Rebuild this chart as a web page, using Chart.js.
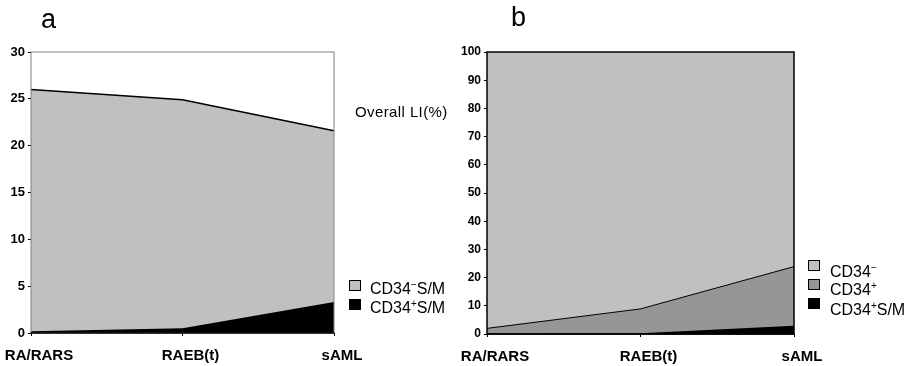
<!DOCTYPE html>
<html><head><meta charset="utf-8">
<script src="https://cdn.jsdelivr.net/npm/chart.js@4/dist/chart.umd.min.js"></script>
<style>
html,body{margin:0;padding:0;background:#fff;}
body{width:908px;height:366px;position:relative;overflow:hidden;font-family:"Liberation Sans",Arial,sans-serif;color:#000;}
.abs{position:absolute;white-space:nowrap;}
.sw{position:absolute;box-sizing:border-box;border:1px solid #000;}
.lt{position:absolute;white-space:nowrap;font-size:16px;line-height:16px;}
.lt .s{font-size:10px;position:relative;top:-6px;line-height:0;}
canvas{display:block}
</style></head><body>
<div class="abs" style="left:0;top:0;width:454px;height:366px"><canvas id="chartA" width="454" height="366"></canvas></div>
<div class="abs" style="left:454px;top:0;width:454px;height:366px"><canvas id="chartB" width="454" height="366"></canvas></div>
<div class="abs" style="left:41px;top:6px;font-size:27px;line-height:27px;">a</div>
<div class="abs" style="left:511px;top:4px;font-size:27px;line-height:27px;">b</div>
<div class="abs" style="left:355px;top:104px;font-size:15px;line-height:15px;letter-spacing:0.4px;">Overall LI(%)</div>
<div id="legends"></div>
<script>
// ---------- data ----------
const categories = ['RA/RARS', 'RAEB(t)', 'sAML'];

// panel a : labelling index (%)
const overallLI   = [26.0, 24.9, 21.6];   // CD34- S/M top edge (overall LI)
const cd34PosSM_a = [0.2, 0.5, 3.3];      // CD34+ S/M
const ticksA      = [0, 5, 10, 15, 20, 25, 30];

// panel b : percentage
const cd34Neg_b   = [100, 100, 100];
const cd34Pos_b   = [2.0, 8.9, 23.9];
const cd34PosSM_b = [0.0, 0.3, 2.9];
const ticksB      = [0, 10, 20, 30, 40, 50, 60, 70, 80, 90, 100];

const legendA = [
  {html: 'CD34<span class="s">&minus;</span>S/M', color: '#c0c0c0'},
  {html: 'CD34<span class="s">+</span>S/M', color: '#000000'}
];
const legendB = [
  {html: 'CD34<span class="s">&minus;</span>', color: '#c0c0c0'},
  {html: 'CD34<span class="s">+</span>', color: '#969696'},
  {html: 'CD34<span class="s">+</span>S/M', color: '#000000'}
];

// ---------- helpers ----------
const framePlugin = {
  id: 'frame',
  afterDatasetsDraw(chart, args, o) {
    const {ctx, chartArea: {left, right, top, bottom}} = chart;
    ctx.save();
    ctx.lineWidth = o.width;
    ctx.strokeStyle = o.color;
    ctx.strokeRect(left, top, right - left, bottom - top);
    ctx.strokeStyle = o.bottomColor;
    ctx.lineWidth = o.bottomWidth;
    ctx.beginPath(); ctx.moveTo(left - 0.5, bottom); ctx.lineTo(right + 0.5, bottom); ctx.stroke();
    ctx.restore();
  }
};

function makeChart(id, datasets, ticks, yWidth, xHeight, padRight, tickFont, frame) {
  return new Chart(document.getElementById(id), {
    type: 'line',
    data: {labels: categories, datasets},
    options: {
      responsive: false, animation: false, devicePixelRatio: 1,
      layout: {padding: {left: 0, right: padRight, top: 52, bottom: 0}},
      plugins: {legend: {display: false}, tooltip: {enabled: false}, frame},
      elements: {point: {radius: 0}, line: {tension: 0}},
      scales: {
        x: {
          offset: false,
          border: {display: false},
          grid: {drawOnChartArea: false, tickLength: 3, color: '#000', lineWidth: 1},
          ticks: {color: '#000', font: {family: 'Liberation Sans', size: 15, weight: 'bold'}, padding: 11, labelOffset: 8, maxRotation: 0, autoSkip: false},
          afterFit(s) { s.height = xHeight; s.paddingLeft = 0; s.paddingRight = 0; }
        },
        y: {
          min: ticks[0], max: ticks[ticks.length - 1],
          border: {display: false},
          grid: {drawOnChartArea: false, tickLength: 3, color: '#000', lineWidth: 1},
          ticks: {stepSize: ticks[1] - ticks[0], color: '#000', font: {family: 'Liberation Sans', size: tickFont, weight: 'bold'}, padding: 3},
          afterFit(s) { s.width = yWidth; s.paddingTop = 0; s.paddingBottom = 0; }
        }
      }
    },
    plugins: [framePlugin]
  });
}

// panel a
makeChart('chartA', [
  {label: 'CD34+S/M', data: cd34PosSM_a, fill: 'origin', backgroundColor: '#000', borderColor: '#000', borderWidth: 0},
  {label: 'CD34-S/M', data: overallLI, fill: 'origin', backgroundColor: '#c0c0c0', borderColor: '#000', borderWidth: 1.5}
], ticksA, 31, 33, 120, 13, {color: '#808080', width: 1, bottomColor: '#000', bottomWidth: 1.5});

// panel b
makeChart('chartB', [
  {label: 'CD34+S/M', data: cd34PosSM_b, fill: 'origin', backgroundColor: '#000', borderColor: '#000', borderWidth: 0},
  {label: 'CD34+', data: cd34Pos_b, fill: 'origin', backgroundColor: '#969696', borderColor: '#000', borderWidth: 1},
  {label: 'CD34-', data: cd34Neg_b, fill: 'origin', backgroundColor: '#c0c0c0', borderColor: '#000', borderWidth: 0}
], ticksB, 33, 32, 114, 12, {color: '#000', width: 1.5, bottomColor: '#000', bottomWidth: 1.5});

// ---------- legends (HTML text) ----------
function legend(items, swLeft, swTops, txtLeft, txtTops) {
  const host = document.getElementById('legends');
  items.forEach((it, i) => {
    const sw = document.createElement('div');
    sw.className = 'sw';
    sw.style.cssText = `left:${swLeft}px;top:${swTops[i]}px;width:12px;height:11px;background:${it.color};`;
    host.appendChild(sw);
    const t = document.createElement('div');
    t.className = 'lt';
    t.style.cssText = `left:${txtLeft}px;top:${txtTops[i]}px;`;
    t.innerHTML = it.html;
    host.appendChild(t);
  });
}
legend(legendA, 349, [280, 299], 370, [281, 300]);
legend(legendB, 808, [260, 279, 298], 830, [264, 282, 302]);
</script>
</body></html>
